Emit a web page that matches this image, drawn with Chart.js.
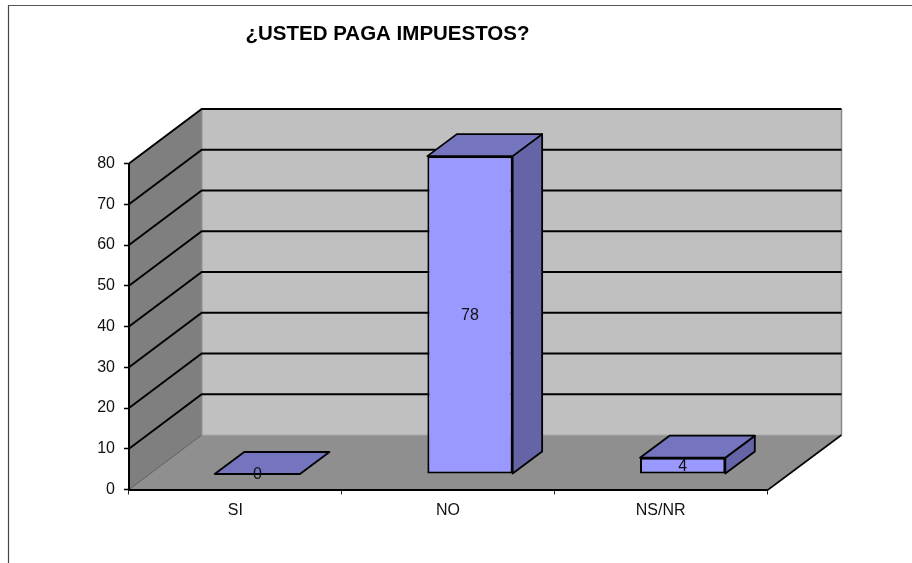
<!DOCTYPE html>
<html><head><meta charset="utf-8">
<style>html,body{margin:0;padding:0;background:#fff}canvas{display:block;filter:blur(0.35px)}</style>
<script src="https://cdn.jsdelivr.net/npm/chart.js@4"></script>
</head><body><canvas id="c" width="912" height="563" style="width:912px;height:563px"></canvas>
<script>
const categories = ['SI', 'NO', 'NS/NR'];
const values = [0, 78, 4];
const yTicks = [0, 10, 20, 30, 40, 50, 60, 70, 80];
const chartTitle = '¿USTED PAGA IMPUESTOS?';

const FONT = '"Liberation Sans", Arial, sans-serif';
const WALL = {dx: 72.7, dxRight: 74.5, dy: -54.5};
const BAR_SHIFT = {dx: 22, dy: -15.5};
const BAR_DEPTH = {dx: 29.5, dy: -22};

function poly(ctx, pts, fill, stroke, lw) {
  ctx.beginPath();
  pts.forEach((p, i) => i ? ctx.lineTo(p[0], p[1]) : ctx.moveTo(p[0], p[1]));
  ctx.closePath();
  if (fill) { ctx.fillStyle = fill; ctx.fill(); }
  if (stroke) { ctx.strokeStyle = stroke; ctx.lineWidth = lw; ctx.lineJoin = 'round'; ctx.stroke(); }
}
function line(ctx, x1, y1, x2, y2, color, lw) {
  ctx.beginPath(); ctx.moveTo(x1, y1); ctx.lineTo(x2, y2);
  ctx.strokeStyle = color; ctx.lineWidth = lw; ctx.stroke();
}

const scene = {
  id: 'scene',
  beforeDraw(chart) {
    const {ctx, scales: {x, y}} = chart;
    const l = x.left, r = x.right, b = y.getPixelForValue(0), t = y.getPixelForValue(80);
    const d = WALL, bl = l + d.dx, br = r + d.dxRight;
    ctx.save();
    // frame round the picture
    line(ctx, 8.5, 5, 8.5, 563, '#444', 1.2);
    line(ctx, 8, 5.5, 912, 5.5, '#555', 1.2);
    // back wall, left wall, floor
    poly(ctx, [[bl, t + d.dy], [br, t + d.dy], [br, b + d.dy], [bl, b + d.dy]], '#c0c0c0');
    poly(ctx, [[l, t], [bl, t + d.dy], [bl, b + d.dy], [l, b]], '#7f7f7f');
    poly(ctx, [[l, b], [bl, b + d.dy], [br, b + d.dy], [r, b]], '#8f8f8f');
    // grey edges
    line(ctx, bl, t + d.dy, bl, b + d.dy, '#8a8a8a', 1.5);
    line(ctx, br, t + d.dy, br, b + d.dy, '#8a8a8a', 1.5);
    line(ctx, bl, b + d.dy, br, b + d.dy, '#a8a8a8', 1.2);
    line(ctx, l, b, bl, b + d.dy, '#5a5a5a', 1);
    line(ctx, r, b + 1, br, b + d.dy, '#000', 1.6);
    // gridlines through both walls
    yTicks.filter(v => v > 0).forEach(v => {
      const py = y.getPixelForValue(v);
      ctx.beginPath();
      ctx.moveTo(l, py);
      ctx.lineTo(bl, py + d.dy);
      ctx.lineTo(br, py + d.dy);
      ctx.strokeStyle = '#000'; ctx.lineWidth = 1.9; ctx.lineJoin = 'miter'; ctx.stroke();
    });
    ctx.restore();
  },
  beforeDatasetDraw(chart, args) {
    const {ctx} = chart;
    ctx.save();
    ctx.translate(BAR_SHIFT.dx, BAR_SHIFT.dy);
    const q = BAR_DEPTH;
    chart.getDatasetMeta(args.index).data.forEach(bar => {
      const hw = bar.width / 2, L = bar.x - hw, R = bar.x + hw, T = bar.y, B = bar.base;
      if (B - T > 0.5) poly(ctx, [[R, T], [R + q.dx, T + q.dy], [R + q.dx, B + q.dy], [R, B]], '#6464a6', '#000', 1.8);
      poly(ctx, [[L, T], [R, T], [R + q.dx, T + q.dy], [L + q.dx, T + q.dy]], '#7474bf', '#000', 1.8);
    });
  },
  afterDatasetDraw(chart) {
    chart.ctx.restore();
  },
  afterDraw(chart) {
    const {ctx} = chart;
    ctx.save();
    ctx.fillStyle = '#111';
    ctx.font = '16px ' + FONT;
    ctx.textAlign = 'center';
    ctx.textBaseline = 'middle';
    chart.getDatasetMeta(0).data.forEach((bar, i) => {
      ctx.fillText(String(values[i]), bar.x + BAR_SHIFT.dx, (bar.y + bar.base) / 2 + BAR_SHIFT.dy + 1);
    });
    ctx.fillStyle = '#000';
    ctx.font = 'bold 20.5px ' + FONT;
    ctx.fillText(chartTitle, 387.5, 34);
    ctx.restore();
  }
};

new Chart(document.getElementById('c'), {
  type: 'bar',
  data: {
    labels: categories,
    datasets: [{
      data: values,
      backgroundColor: '#9999ff',
      borderColor: '#000',
      borderWidth: 2,
      borderSkipped: false,
      barPercentage: 0.401,
      categoryPercentage: 1,
      clip: false
    }]
  },
  options: {
    responsive: false,
    animation: false,
    devicePixelRatio: 1,
    layout: {padding: {left: 89, right: 145, top: 163.5, bottom: 30}},
    plugins: {legend: {display: false}, tooltip: {enabled: false}},
    scales: {
      x: {
        afterFit(s) { s.height = 43.5; },
        grid: {display: true, drawOnChartArea: false, drawTicks: true, tickLength: 5, tickColor: '#222', tickWidth: 1, offset: true},
        border: {display: true, color: '#000', width: 2},
        ticks: {color: '#111', font: {family: FONT, size: 16}, padding: 6, maxRotation: 0}
      },
      y: {
        min: 0, max: 80,
        afterFit(s) { s.width = 40; },
        afterBuildTicks(s) { s.ticks = yTicks.map(v => ({value: v})); },
        grid: {display: true, drawOnChartArea: false, drawTicks: true, tickLength: 5, tickColor: '#000', tickWidth: 1.5},
        border: {display: true, color: '#000', width: 2},
        ticks: {color: '#111', font: {family: FONT, size: 16}, padding: 9}
      }
    }
  },
  plugins: [scene]
});
</script></body></html>
